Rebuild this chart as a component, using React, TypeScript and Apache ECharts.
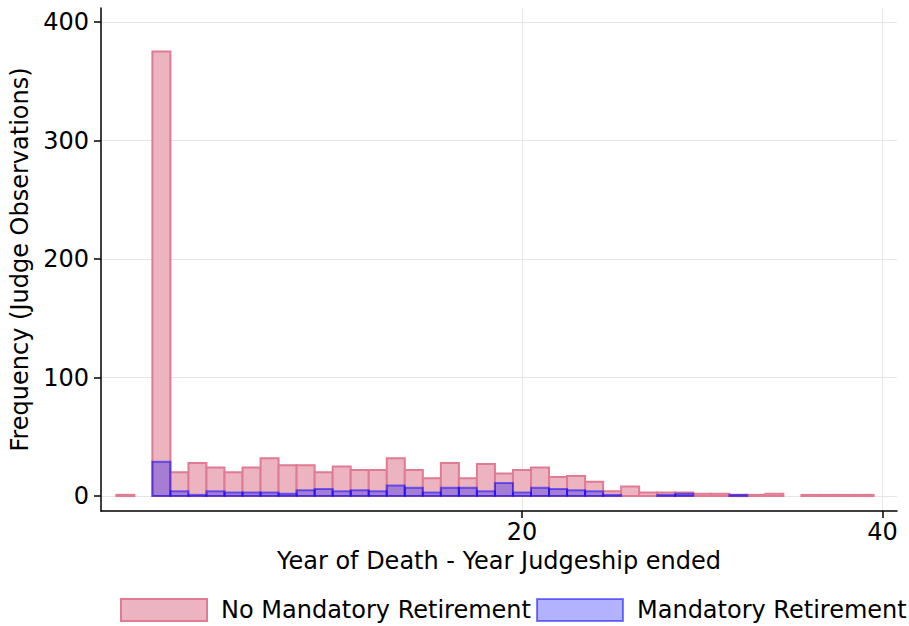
import React, { useEffect, useRef } from "react";
import * as echarts from "echarts";

const bins = [-2, -1, 0, 1, 2, 3, 4, 5, 6, 7, 8, 9, 10, 11, 12, 13, 14, 15, 16, 17, 18, 19, 20, 21, 22, 23, 24, 25, 26, 27, 28, 29, 30, 31, 32, 33, 34, 35, 36, 37, 38, 39];
const noMandatory = [1, 0, 375, 20, 28, 24, 20, 24, 32, 26, 26, 20, 25, 22, 22, 32, 22, 15, 28, 15, 27, 19, 22, 24, 16, 17, 12, 4, 8, 3, 3, 3, 2, 2, 1, 1, 2, 0, 1, 1, 1, 1];
const mandatory = [0, 0, 29, 4, 1, 4, 3, 3, 3, 2, 5, 6, 4, 5, 4, 9, 7, 3, 7, 7, 4, 11, 3, 7, 6, 5, 4, 1, 0, 0, 1, 2, 0, 0, 1, 0, 0, 0, 0, 0, 0, 0];
const yTicks = [0, 100, 200, 300, 400];
const xTicks = [20, 40];
const seriesNames = ["No Mandatory Retirement", "Mandatory Retirement"];

const FONT = "DejaVu Sans";
const FS = 24;
const PINK_FILL = "#ecb3c0";
const PINK_STROKE = "#e07b93";
const BLUE_FILL = "rgba(0,0,255,0.3)";
const BLUE_STROKE = "rgba(0,0,255,0.5)";

function makeRender(fill: string, stroke: string) {
  return (params: any, api: any) => {
    const x = api.value(0);
    const y = api.value(1);
    if (!y) return null;
    const tl = api.coord([x - 0.5, y]);
    const br = api.coord([x + 0.5, 0]);
    return {
      type: "rect",
      shape: { x: tl[0], y: tl[1], width: br[0] - tl[0], height: br[1] - tl[1] },
      style: { fill, stroke, lineWidth: 2 },
    };
  };
}

function legendFor(name: string, left: number, fill: string, stroke: string) {
  return {
    left,
    top: 598,
    padding: 0,
    itemWidth: 86,
    itemHeight: 22,
    textStyle: { fontSize: FS, color: "#000", fontFamily: FONT, padding: [0, 0, 0, 9] },
    data: [{ name, icon: "rect", itemStyle: { color: fill, borderColor: stroke, borderWidth: 2 } }],
  };
}

export default function App() {
  const ref = useRef<HTMLDivElement>(null);
  useEffect(() => {
    if (!ref.current) return;
    const chart = echarts.init(ref.current, null, { renderer: "svg" });
    const gridStyle = { color: "#e6e6e6", width: 1, type: "solid" as const };
    chart.setOption({
      animation: false,
      textStyle: { fontFamily: FONT },
      grid: { left: 101, right: 12, top: 8, bottom: 115, containLabel: false },
      xAxis: {
        type: "value",
        min: -3.35,
        max: 40.8,
        name: "Year of Death - Year Judgeship ended",
        nameLocation: "middle",
        nameGap: 37,
        nameTextStyle: { fontSize: FS, color: "#000", fontFamily: FONT },
        axisLine: { onZero: false, lineStyle: { color: "#000", width: 1.5 } },
        axisTick: { show: true, length: 7, customValues: xTicks, lineStyle: { color: "#000", width: 1.5 } },
        axisLabel: { customValues: xTicks, fontSize: FS, color: "#000", margin: 9, fontFamily: FONT },
        splitLine: { show: false },
      },
      yAxis: {
        type: "value",
        min: -12.6,
        max: 411.8,
        name: "Frequency (Judge Observations)",
        nameLocation: "middle",
        nameGap: 67,
        nameTextStyle: { fontSize: FS, color: "#000", fontFamily: FONT },
        axisLine: { show: true, onZero: false, lineStyle: { color: "#000", width: 1.5 } },
        axisTick: { show: true, length: 7, customValues: yTicks, lineStyle: { color: "#000", width: 1.5 } },
        axisLabel: { customValues: yTicks, fontSize: FS, color: "#000", margin: 12, fontFamily: FONT },
        splitLine: { show: false },
      },
      legend: [
        legendFor(seriesNames[0], 120, PINK_FILL, PINK_STROKE),
        legendFor(seriesNames[1], 536, BLUE_FILL, BLUE_STROKE),
      ],
      series: [
        {
          type: "line",
          name: "grid",
          data: [],
          silent: true,
          z: 0,
          markLine: {
            silent: true,
            symbol: "none",
            z: 0,
            label: { show: false },
            lineStyle: gridStyle,
            data: [
              ...yTicks.map((v) => ({ yAxis: v })),
              ...xTicks.map((v) => ({ xAxis: v })),
            ],
          },
        },
        {
          type: "custom",
          name: seriesNames[0],
          z: 3,
          renderItem: makeRender(PINK_FILL, PINK_STROKE),
          encode: { x: 0, y: 1 },
          data: bins.map((b, i) => [b, noMandatory[i]]),
        },
        {
          type: "custom",
          name: seriesNames[1],
          z: 4,
          renderItem: makeRender(BLUE_FILL, BLUE_STROKE),
          encode: { x: 0, y: 1 },
          data: bins.map((b, i) => [b, mandatory[i]]),
        },
      ],
    });
    return () => chart.dispose();
  }, []);
  return <div ref={ref} style={{ width: 909, height: 626, position: "absolute", left: 0, top: 0 }} />;
}
